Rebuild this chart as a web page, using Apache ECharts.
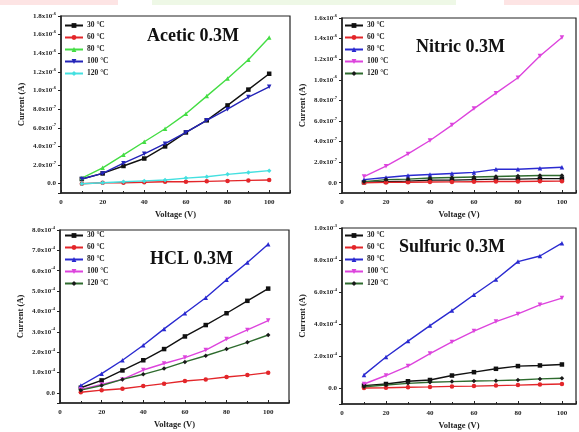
<!DOCTYPE html>
<html><head><meta charset="utf-8">
<script src="https://cdn.jsdelivr.net/npm/echarts@6/dist/echarts.min.js"></script>
<style>html,body{margin:0;padding:0;background:#fff}#c{width:579px;height:432px}</style>
</head><body><div id="c"></div>
<script>
// Voltage (V)
var voltage = [10, 20, 30, 40, 50, 60, 70, 80, 90, 100];
var xTicks = [0, 20, 40, 60, 80, 100];
var legendNames = ['30 °C', '60 °C', '80 °C', '100 °C', '120 °C'];
var panelTitles = ['Acetic 0.3M', 'Nitric 0.3M', 'HCL 0.3M', 'Sulfuric 0.3M'];

// Acetic 0.3M (units of 1e-6 A)
var acetic30  = [0.05, 0.11, 0.19, 0.27, 0.40, 0.55, 0.68, 0.84, 1.01, 1.18];
var acetic60  = [0.00, 0.01, 0.01, 0.015, 0.02, 0.02, 0.025, 0.03, 0.035, 0.04];
var acetic80  = [0.06, 0.17, 0.31, 0.45, 0.59, 0.75, 0.94, 1.13, 1.33, 1.57];
var acetic100 = [0.05, 0.11, 0.22, 0.32, 0.43, 0.55, 0.68, 0.80, 0.93, 1.04];
var acetic120 = [0.00, 0.01, 0.02, 0.03, 0.04, 0.06, 0.075, 0.10, 0.12, 0.14];

// Nitric 0.3M (units of 1e-6 A)
var nitric30  = [0.005, 0.01, 0.015, 0.025, 0.025, 0.03, 0.035, 0.035, 0.04, 0.04];
var nitric60  = [0.0, 0.003, 0.005, 0.007, 0.008, 0.01, 0.011, 0.012, 0.014, 0.015];
var nitric80  = [0.03, 0.05, 0.07, 0.08, 0.09, 0.10, 0.13, 0.13, 0.14, 0.15];
var nitric100 = [0.06, 0.16, 0.28, 0.41, 0.56, 0.72, 0.87, 1.02, 1.23, 1.41];
var nitric120 = [0.01, 0.03, 0.035, 0.045, 0.05, 0.055, 0.06, 0.065, 0.07, 0.07];

// HCL 0.3M (units of 1e-4 A)
var hcl30  = [0.25, 0.61, 1.10, 1.60, 2.15, 2.77, 3.33, 3.91, 4.52, 5.12];
var hcl60  = [0.03, 0.13, 0.20, 0.33, 0.45, 0.58, 0.66, 0.78, 0.87, 0.99];
var hcl80  = [0.36, 0.94, 1.60, 2.34, 3.14, 3.91, 4.67, 5.56, 6.40, 7.30];
var hcl100 = [0.17, 0.41, 0.66, 1.12, 1.44, 1.73, 2.10, 2.64, 3.09, 3.55];
var hcl120 = [0.13, 0.36, 0.66, 0.91, 1.19, 1.52, 1.82, 2.15, 2.48, 2.84];

// Sulfuric 0.3M (units of 1e-3 A)
var sulf30  = [0.015, 0.025, 0.042, 0.05, 0.078, 0.099, 0.12, 0.137, 0.141, 0.147];
var sulf60  = [0.0, 0.002, 0.005, 0.007, 0.01, 0.012, 0.015, 0.018, 0.022, 0.025];
var sulf80  = [0.082, 0.194, 0.293, 0.39, 0.484, 0.583, 0.678, 0.79, 0.825, 0.905];
var sulf100 = [0.025, 0.078, 0.137, 0.215, 0.288, 0.356, 0.415, 0.463, 0.52, 0.562];
var sulf120 = [0.008, 0.019, 0.029, 0.036, 0.04, 0.044, 0.046, 0.05, 0.057, 0.061];

var FONT = 'Liberation Serif';
var downTri = 'path://M0,0 L10,0 L5,9 Z';
var symbols = ['rect', 'circle', 'triangle', downTri, 'diamond'];

var panels = [
  {grid: {left: 61, top: 16, width: 229, height: 177}, xMax: 110, yMin: -0.1, yMax: 1.8, split: 9,
   fmt: function (v) { return v < 1 ? [(v * 10).toFixed(1), '-7'] : [v.toFixed(1), '-6']; },
   series: [acetic30, acetic60, acetic80, acetic100, acetic120],
   colors: ['#111111', '#e3262a', '#44dd44', '#2424b8', '#44e0e0'],
   lineColors: ['#111111', '#e3262a', '#44dd44', '#2424b8', '#44e0e0'],
   legend: {left: 64, top: 21}, title: {left: 147, top: 27}},
  {grid: {left: 342, top: 18, width: 234, height: 175}, xMax: 106.4, yMin: -0.1, yMax: 1.6, split: 8,
   fmt: function (v) { return v < 1 ? [(v * 10).toFixed(1), '-7'] : [v.toFixed(1), '-6']; },
   series: [nitric30, nitric60, nitric80, nitric100, nitric120],
   colors: ['#111111', '#e3262a', '#2a2ad0', '#dd44dd', '#1a1a1a'],
   lineColors: ['#111111', '#e3262a', '#2a2ad0', '#dd44dd', '#2e6b2e'],
   legend: {left: 344, top: 21}, title: {left: 416, top: 38}},
  {grid: {left: 60, top: 230, width: 229, height: 173}, xMax: 110, yMin: -0.5, yMax: 8, split: 8,
   fmt: function (v) { return [v.toFixed(1), '-4']; },
   series: [hcl30, hcl60, hcl80, hcl100, hcl120],
   colors: ['#111111', '#e3262a', '#2a2ad0', '#dd44dd', '#1a1a1a'],
   lineColors: ['#111111', '#e3262a', '#2a2ad0', '#dd44dd', '#2e6b2e'],
   legend: {left: 64, top: 231}, title: {left: 150, top: 250}},
  {grid: {left: 342, top: 228, width: 234, height: 176}, xMax: 106.4, yMin: -0.1, yMax: 1.0, split: 5,
   fmt: function (v) { return v < 1 ? [(v * 10).toFixed(1), '-4'] : [v.toFixed(1), '-3']; },
   series: [sulf30, sulf60, sulf80, sulf100, sulf120],
   colors: ['#111111', '#e3262a', '#2a2ad0', '#dd44dd', '#1a1a1a'],
   lineColors: ['#111111', '#e3262a', '#2a2ad0', '#dd44dd', '#2e6b2e'],
   legend: {left: 344, top: 231}, title: {left: 399, top: 238}}
];

var option = {
  animation: false,
  backgroundColor: '#ffffff',
  textStyle: {fontFamily: FONT},
  grid: [], xAxis: [], yAxis: [], series: [], legend: [], title: [],
  graphic: [
    {type: 'rect', shape: {x: 0, y: 0, width: 118, height: 5}, style: {fill: '#fde4e4'}, silent: true},
    {type: 'rect', shape: {x: 152, y: 0, width: 304, height: 5}, style: {fill: '#eef8e6'}, silent: true},
    {type: 'rect', shape: {x: 504, y: 0, width: 75, height: 5}, style: {fill: '#fde4e4'}, silent: true}
  ]
};

panels.forEach(function (p, i) {
  option.grid.push(Object.assign({show: true, borderColor: '#222', borderWidth: 1.2, backgroundColor: 'transparent'}, p.grid));
  option.xAxis.push({
    type: 'value', gridIndex: i, min: 0, max: p.xMax, interval: 20,
    name: 'Voltage (V)', nameLocation: 'middle', nameGap: 17,
    nameTextStyle: {fontFamily: FONT, fontWeight: 'bold', fontSize: 8.5, color: '#222'},
    axisLine: {show: true, onZero: false, lineStyle: {color: '#222', width: 1.5}},
    axisTick: {show: true, inside: true, length: 3, lineStyle: {color: '#222'}},
    minorTick: {show: true, splitNumber: 2, length: 2, lineStyle: {color: '#222'}},
    axisLabel: {margin: 6, fontFamily: FONT, fontWeight: 'bold', fontSize: 7, color: '#222',
      formatter: function (v) { return xTicks.indexOf(v) >= 0 ? String(v) : ''; }},
    splitLine: {show: false}
  });
  option.yAxis.push({
    type: 'value', gridIndex: i, min: p.yMin, max: p.yMax, splitNumber: p.split,
    name: 'Current (A)', nameLocation: 'middle', nameGap: 35,
    nameTextStyle: {fontFamily: FONT, fontWeight: 'bold', fontSize: 8.5, color: '#222'},
    axisLine: {show: true, onZero: false, lineStyle: {color: '#222', width: 1.5}},
    axisTick: {show: true, inside: false, length: 3, lineStyle: {color: '#222'}},
    axisLabel: {margin: 5, fontFamily: FONT, fontWeight: 'bold', fontSize: 7, color: '#222',
      formatter: function (v) {
        if (v < -1e-9) return '';
        if (Math.abs(v) < 1e-9) return '{b|0.0}';
        var f = p.fmt(v);
        return '{b|' + f[0] + 'x10}{s|' + f[1] + '}';
      },
      rich: {
        b: {fontFamily: FONT, fontWeight: 'bold', fontSize: 7, color: '#222'},
        s: {fontFamily: FONT, fontWeight: 'bold', fontSize: 4.5, color: '#222', padding: [0, 0, 5, 0]}
      }},
    splitLine: {show: false}
  });
  var names = [];
  p.series.forEach(function (d, k) {
    var nm = 'p' + i + '|' + legendNames[k];
    names.push(nm);
    option.series.push({
      type: 'line', name: nm, xAxisIndex: i, yAxisIndex: i,
      data: voltage.map(function (x, j) { return [x, d[j]]; }),
      symbol: symbols[k], symbolSize: 4.5,
      itemStyle: {color: p.colors[k]},
      lineStyle: {color: p.lineColors[k], width: 1.4},
      z: 2 + k
    });
  });
  option.legend.push({
    data: names, orient: 'vertical', left: p.legend.left, top: p.legend.top,
    itemWidth: 18, itemHeight: 6, itemGap: 3, padding: 0,
    formatter: function (n) { return n.split('|')[1]; },
    textStyle: {fontFamily: FONT, fontWeight: 'bold', fontSize: 7.5, lineHeight: 9, color: '#222', padding: [0, 0, 0, -1]}
  });
  option.title.push({
    text: panelTitles[i], left: p.title.left, top: p.title.top, padding: 0,
    textStyle: {fontFamily: FONT, fontWeight: 'bold', fontSize: 18, color: '#111'}
  });
});

var chart = echarts.init(document.getElementById('c'), null, {renderer: 'canvas'});
chart.setOption(option);
</script>
</body></html>
